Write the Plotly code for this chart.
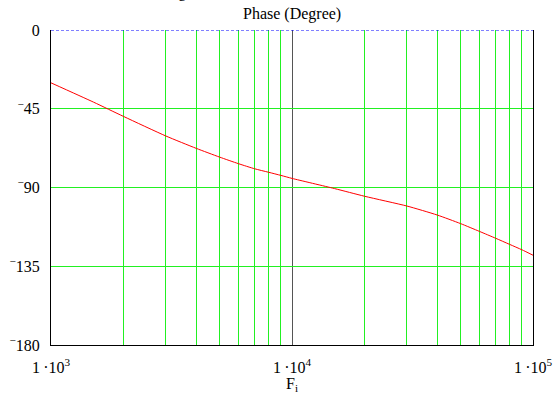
import plotly.graph_objects as go

# Frequency (Hz) and phase (degrees) of the response
freq = [1000, 1500, 2000, 3000, 4000, 5000, 6000, 7000, 8000, 9000,
        10000, 15000, 20000, 30000, 40000, 50000, 60000, 70000, 80000, 90000, 100000]
phase = [-30.2, -41.2, -49.4, -60.6, -67.6, -72.6, -76.4, -79.3, -81.3, -83.1,
         -84.8, -90.6, -95.0, -100.6, -105.7, -110.6, -115.1, -119.0, -122.5, -125.6, -128.7]

x_major = [1000, 10000, 100000]
x_labels = ["1\u2009\u00b710<sup>3</sup>", "1\u2009\u00b710<sup>4</sup>", "1\u2009\u00b710<sup>5</sup>"]
x_minor = [2000, 3000, 4000, 5000, 6000, 7000, 8000, 9000,
           20000, 30000, 40000, 50000, 60000, 70000, 80000, 90000]
y_ticks = [-180, -135, -90, -45, 0]
y_labels = ["<sup>\u2212</sup>180", "<sup>\u2212</sup>135", "<sup>\u2212</sup>90",
            "<sup>\u2212</sup>45", "0"]

FONT = "Times New Roman, Liberation Serif, serif"
GREEN = "#22f022"

fig = go.Figure()
fig.add_trace(go.Scatter(
    x=freq, y=phase, mode="lines",
    line=dict(color="#ff0000", width=1, shape="spline", smoothing=0.6),
    showlegend=False,
))

fig.update_layout(
    width=555, height=394,
    margin=dict(l=51, r=22, t=30, b=49),
    paper_bgcolor="white", plot_bgcolor="white",
    font=dict(family=FONT, size=16, color="black"),
    xaxis=dict(
        type="log", range=[3, 5], automargin=False,
        tickvals=x_major, ticktext=x_labels,
        showgrid=True, gridcolor="#555555", gridwidth=1,
        showline=True, linecolor="black", linewidth=1,
        ticks="", ticklabelstandoff=8,
        tickfont=dict(family=FONT, size=16),
        minor=dict(tickvals=x_minor, showgrid=True, gridcolor=GREEN, gridwidth=1, ticks=""),
        title=dict(text="F<sub>i</sub>", font=dict(family=FONT, size=16), standoff=4),
        zeroline=False,
    ),
    yaxis=dict(
        range=[-180, 0], automargin=False,
        tickvals=y_ticks, ticktext=y_labels,
        showgrid=True, gridcolor=GREEN, gridwidth=1,
        showline=True, linecolor="black", linewidth=1, mirror=True,
        ticks="", ticklabelstandoff=7,
        tickfont=dict(family=FONT, size=16),
        zeroline=False,
    ),
    shapes=[dict(
        type="line", xref="paper", yref="y", x0=0, x1=1, y0=0, y1=0,
        line=dict(color="#0000ff", width=1, dash="3px,2px"), layer="above",
    )],
    annotations=[
        dict(text="Phase (Degree)", xref="paper", yref="paper", x=0.5, y=1,
             yshift=5, xanchor="center", yanchor="bottom", showarrow=False,
             font=dict(family=FONT, size=16)),
        dict(text="Fig. 3. Calculated Phase Function of G<sub>c</sub>",
             xref="paper", yref="paper", x=0.5, y=1, yshift=26,
             xanchor="center", yanchor="bottom", showarrow=False,
             font=dict(family=FONT, size=16)),
    ],
)

fig.write_html("out.html")
